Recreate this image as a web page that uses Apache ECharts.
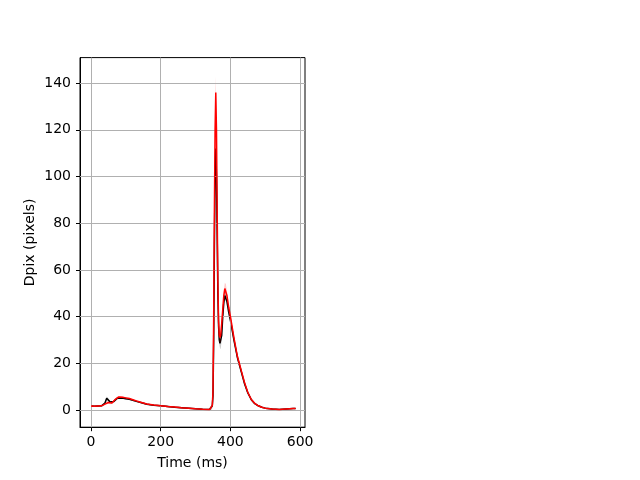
<!DOCTYPE html>
<html>
<head>
<meta charset="utf-8">
<script src="https://cdn.jsdelivr.net/npm/echarts@6/dist/echarts.min.js"></script>
<style>html,body{margin:0;padding:0;background:#fff}#c{width:640px;height:480px}</style>
</head>
<body>
<div id="c"></div>
<script>
var times = [0,10,20,30,35,40,45,50,55,60,65,70,75,80,90,100,110,120,130,140,150,160,180,200,220,240,260,280,300,320,340,345,348,350,352,354,356,358,360,362,364,366,368,370,372,375,378,381,384,387,390,395,400,410,420,430,440,450,460,470,480,490,500,520,540,560,580,587];
var redValues = [1.7,1.6,1.7,1.8,2.0,2.5,3.3,3.2,2.9,3.0,3.6,4.6,5.4,5.6,5.5,5.2,4.9,4.4,3.9,3.4,3.0,2.6,2.1,1.8,1.5,1.3,1.0,0.8,0.5,0.3,0.2,0.4,2.0,8,40,85,120,136,120,85,55,38,32,31,32,37,43,49,52,51.5,49,44,40,31,23,17.5,12,7.5,4.5,2.8,1.8,1.2,0.8,0.4,0.2,0.4,0.6,0.6];
var blackValues = [1.7,1.6,1.7,1.8,2.0,3.0,5.0,4.2,3.4,3.2,3.6,4.4,5.0,5.2,5.1,4.8,4.6,4.2,3.7,3.3,2.9,2.5,2.0,1.8,1.5,1.2,1.0,0.8,0.5,0.3,0.2,0.4,1.8,6,30,70,100,112,100,75,50,36,30,28.5,28,32,40,46,49,49,46.5,42,38.5,30,22.5,17,11.5,7.3,4.4,2.7,1.8,1.2,0.8,0.4,0.2,0.4,0.6,0.6];
var redSpread = [0.3,0.3,0.3,0.3,0.3,0.4,0.5,0.5,0.4,0.4,0.4,0.4,0.4,0.4,0.4,0.3,0.3,0.3,0.3,0.3,0.3,0.3,0.3,0.3,0.3,0.3,0.3,0.3,0.2,0.2,0.2,0.3,1,2,5,6,7,7,6,5,4,3,2.5,2.5,2.5,2.5,2.5,2.5,2.5,2.5,2,2,2,1.5,1.2,1,0.8,0.6,0.4,0.3,0.3,0.3,0.2,0.2,0.2,0.2,0.2,0.2];
var blackSpread = [0.3,0.3,0.3,0.3,0.3,0.5,0.8,0.7,0.5,0.4,0.4,0.4,0.4,0.4,0.4,0.3,0.3,0.3,0.3,0.3,0.3,0.3,0.3,0.3,0.3,0.3,0.3,0.3,0.2,0.2,0.2,0.3,1,2,4,5,5,5,5,4,3,2.5,2,2,2,2,2,2,2,2,2,2,2,1.5,1.2,1,0.8,0.6,0.4,0.3,0.3,0.3,0.2,0.2,0.2,0.2,0.2,0.2];
var xTicks = [0,200,400,600];
var yTicks = [0,20,40,60,80,100,120,140];

function pairs(vals){ return times.map(function(t,i){ return [t, vals[i]]; }); }
function bandData(vals, sp){ return times.map(function(t,i){ return [t, vals[i]-sp[i], vals[i]+sp[i]]; }); }

function makeBand(vals, sp, fill, z){
  var d = bandData(vals, sp);
  return {
    type: 'custom', silent: true, z: z,
    data: d,
    encode: {x: 0, y: [1, 2]},
    renderItem: function(params, api){
      if (params.dataIndex !== 0) return null;
      var pts = [];
      for (var i = 0; i < d.length; i++) pts.push(api.coord([d[i][0], d[i][2]]));
      for (var j = d.length - 1; j >= 0; j--) pts.push(api.coord([d[j][0], d[j][1]]));
      var cs = params.coordSys;
      return {
        type: 'polygon',
        shape: {points: pts},
        style: {fill: fill, stroke: 'none'},
        clipPath: {type: 'rect', shape: {x: cs.x, y: cs.y, width: cs.width, height: cs.height}}
      };
    }
  };
}

var gridColor = '#b0b0b0';
var font = 'DejaVu Sans';

var option = {
  animation: false,
  backgroundColor: '#fff',
  grid: {left: 80, right: 335, top: 57.6, bottom: 52.8, show: true, borderColor: '#000', borderWidth: 1, backgroundColor: 'transparent'},
  xAxis: {
    type: 'value', min: -31.6, max: 614,
    name: 'Time (ms)', nameLocation: 'middle', nameGap: 29,
    nameTextStyle: {color: '#000', fontSize: 14, fontFamily: font},
    axisLine: {show: true, onZero: false, lineStyle: {color: '#000', width: 1}},
    axisTick: {show: true, inside: false, length: 4, customValues: xTicks, lineStyle: {color: '#000', width: 1}},
    axisLabel: {show: true, customValues: xTicks, margin: 8, color: '#000', fontSize: 14, fontFamily: font},
    splitLine: {show: false}
  },
  yAxis: {
    type: 'value', min: -7.36, max: 150.9,
    name: 'Dpix (pixels)', nameLocation: 'middle', nameGap: 43, nameRotate: 90,
    nameTextStyle: {color: '#000', fontSize: 14, fontFamily: font},
    axisLine: {show: true, onZero: false, lineStyle: {color: '#000', width: 1}},
    axisTick: {show: true, inside: false, length: 4, customValues: yTicks, lineStyle: {color: '#000', width: 1}},
    axisLabel: {show: true, customValues: yTicks, margin: 9, color: '#000', fontSize: 14, fontFamily: font},
    splitLine: {show: false}
  },
  series: [
    {type: 'line', data: [], silent: true, z: 1,
     markLine: {silent: true, symbol: 'none', label: {show: false}, animation: false,
       lineStyle: {color: gridColor, width: 1, type: 'solid'},
       data: xTicks.map(function(v){return {xAxis: v};}).concat(yTicks.map(function(v){return {yAxis: v};}))}},
    makeBand(blackValues, blackSpread, 'rgba(0,0,0,0.2)', 2),
    {type: 'line', data: pairs(blackValues), symbol: 'none', lineStyle: {color: '#000', width: 1.5}, z: 3},
    makeBand(redValues, redSpread, 'rgba(255,0,0,0.2)', 4),
    {type: 'line', data: pairs(redValues), symbol: 'none', lineStyle: {color: '#ff0000', width: 1.5}, z: 5}
  ]
};
var chart = echarts.init(document.getElementById('c'), null, {renderer: 'canvas'});
chart.setOption(option);
</script>
</body>
</html>
